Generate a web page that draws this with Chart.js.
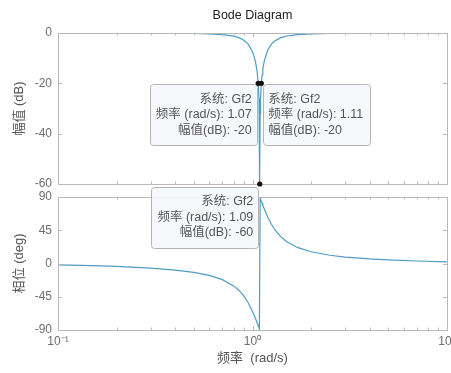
<!DOCTYPE html>
<html>
<head>
<meta charset="utf-8">
<script src="https://cdn.jsdelivr.net/npm/chart.js@4/dist/chart.umd.min.js"></script>
<style>
    html, body { margin: 0; padding: 0; background: #fff; overflow: hidden; }
    #wrap { position: relative; width: 470px; height: 373px; }
    #wrap canvas { position: absolute; left: 0; top: 0; }
</style>
</head>
<body>
<div id="wrap">
    <canvas id="magChart" width="470" height="373"></canvas>
    <canvas id="phaseChart" width="470" height="373"></canvas>
</div>
<script>
// frequency response of Gf2 (rad/s, dB, deg)
const freqMag = [0.1, 0.15, 0.2, 0.3, 0.4, 0.5, 0.6, 0.7, 0.8, 0.85, 0.9, 0.95, 1.0, 1.03, 1.05, 1.06, 1.07, 1.08, 1.085, 1.09,
    1.095, 1.1, 1.11, 1.12, 1.13, 1.15, 1.2, 1.25, 1.3, 1.4, 1.5, 1.7, 2, 2.5, 3, 4, 5, 7, 10];
const magDb = [-0.005, -0.012, -0.021, -0.052, -0.104, -0.193, -0.35, -0.648, -1.274, -1.855, -2.803, -4.425, -7.421, -10.6, -13.99, -16.46, -20, -25.99, -32.02, -60,
    -32.06, -26.07, -20, -16.69, -14.3, -11.04, -6.657, -4.446, -3.167, -1.836, -1.203, -0.644, -0.338, -0.166, -0.101, -0.05, -0.031, -0.015, -0.007];

const freqPhase = [0.1, 0.15, 0.2, 0.3, 0.4, 0.5, 0.6, 0.7, 0.8, 0.85, 0.9, 0.95, 1.0, 1.03, 1.05, 1.06, 1.07, 1.08, 1.085,
    1.095, 1.1, 1.11, 1.12, 1.13, 1.15, 1.2, 1.25, 1.3, 1.4, 1.5, 1.7, 2, 2.5, 3, 4, 5, 7, 10];
const phaseDeg = [-1.94, -2.95, -3.99, -6.24, -8.85, -12.03, -16.16, -21.86, -30.28, -36.14, -43.6, -53.07, -64.82, -72.84, -78.48, -81.35, -84.24, -87.12, -88.56,
    88.57, 87.15, 84.34, 81.58, 78.89, 73.71, 62.31, 53.18, 46.02, 35.96, 29.47, 21.78, 15.88, 11.17, 8.73, 6.17, 4.8, 3.35, 2.32];

const magTicks = [0, -20, -40, -60];
const phaseTicks = [90, 45, 0, -45, -90];
const decadeTicks = [0.1, 1, 10];
const decadeLabels = ['10⁻¹', '10⁰', '10¹'];

// data tips: [freq, value, lines, side]
const magTips = [
    [1.07, -20, ['系统: Gf2', '频率 (rad/s): 1.07', '幅值(dB): -20'], 'left'],
    [1.11, -20, ['系统: Gf2', '频率 (rad/s): 1.11', '幅值(dB): -20'], 'right'],
];
const notchTips = [
    [1.09, -60, ['系统: Gf2', '频率 (rad/s): 1.09', '幅值(dB): -60'], 'left'],
];

const lineColor = '#4d9cc4';
const axisColor = '#b8b8b8';
const textColor = '#6e6e6e';
const fontFamily = "'Liberation Sans', Arial, sans-serif";
const cjkFamily = "'Liberation Sans', 'Noto Sans CJK SC', sans-serif";

function toPoints(xs, ys) {
    return xs.map((x, i) => ({ x: x, y: ys[i] }));
}

// box around the plot and inward tick marks, minor ticks on the log axis
const frameTicks = {
    id: 'frameTicks',
    afterDatasetsDraw(chart) {
        const ctx = chart.ctx;
        const a = chart.chartArea;
        const xs = chart.scales.x;
        const ys = chart.scales.y;
        ctx.save();
        ctx.strokeStyle = axisColor;
        ctx.lineWidth = 1;
        ctx.strokeRect(Math.round(a.left) + 0.5, Math.round(a.top) + 0.5, Math.round(a.right - a.left), Math.round(a.bottom - a.top));
        ctx.beginPath();
        for (let d = 0.1; d < 10; d *= 10) {
            for (let k = 1; k <= 10; k++) {
                const px = Math.round(xs.getPixelForValue(d * k)) + 0.5;
                const len = (k === 1 || k === 10) ? 4 : 2.5;
                ctx.moveTo(px, a.top); ctx.lineTo(px, a.top + len);
                ctx.moveTo(px, a.bottom); ctx.lineTo(px, a.bottom - len);
            }
        }
        chart.options.scales.y.ticks.values.forEach(v => {
            const py = Math.round(ys.getPixelForValue(v)) + 0.5;
            ctx.moveTo(a.left, py); ctx.lineTo(a.left + 4, py);
            ctx.moveTo(a.right, py); ctx.lineTo(a.right - 4, py);
        });
        ctx.stroke();
        ctx.restore();
    }
};

// MATLAB style data tips: a marker and a text box beside it
function drawTips(ctx, xs, ys, tips, dy) {
    ctx.save();
    ctx.font = '12.5px ' + cjkFamily;
    tips.forEach(t => {
        const px = xs.getPixelForValue(t[0]);
        const py = ys.getPixelForValue(t[1]);
        const w = 107, h = 61;
        const bx = t[3] === 'left' ? px - w - 1.5 : px + 2;
        const by = py + dy;
        ctx.fillStyle = 'rgba(246, 248, 252, 0.93)';
        ctx.strokeStyle = '#b4b4b4';
        ctx.lineWidth = 1;
        ctx.beginPath();
        ctx.roundRect(Math.round(bx) + 0.5, Math.round(by) + 0.5, w, h, 3);
        ctx.fill();
        ctx.stroke();
        ctx.fillStyle = '#555';
        ctx.textBaseline = 'middle';
        ctx.textAlign = t[3] === 'left' ? 'right' : 'left';
        const tx = t[3] === 'left' ? bx + w - 5 : bx + 5;
        t[2].forEach((s, i) => ctx.fillText(s, tx, by + 15 + i * 15.5));
    });
    tips.forEach(t => {
        ctx.fillStyle = '#111';
        ctx.beginPath();
        ctx.arc(xs.getPixelForValue(t[0]), ys.getPixelForValue(t[1]), 2.6, 0, Math.PI * 2);
        ctx.fill();
    });
    ctx.restore();
}

function xAxis(showLabels) {
    return {
        type: 'logarithmic',
        min: 0.1,
        max: 10,
        display: showLabels,
        afterBuildTicks: s => { s.ticks = decadeTicks.map(v => ({ value: v })); },
        afterFit: s => { s.height = showLabels ? 43 : 0; },
        grid: { display: false, drawTicks: false },
        border: { display: false },
        ticks: {
            padding: 4,
            color: textColor,
            font: { family: fontFamily, size: 12 },
            maxRotation: 0,
            callback: (v) => decadeLabels[decadeTicks.indexOf(v)] || ''
        },
        title: {
            display: showLabels,
            text: '频率  (rad/s)',
            color: '#555',
            font: { family: cjkFamily, size: 13 },
            padding: { top: 0, bottom: 7 }
        }
    };
}

function yAxis(min, max, values, label) {
    return {
        min: min,
        max: max,
        afterBuildTicks: s => { s.ticks = values.map(v => ({ value: v })); },
        afterFit: s => { s.width = 58; },
        grid: { display: false, drawTicks: false },
        border: { display: false },
        ticks: {
            values: values,
            padding: 6,
            color: textColor,
            font: { family: fontFamily, size: 12 }
        },
        title: {
            display: true,
            text: label,
            color: '#555',
            font: { family: cjkFamily, size: 13 },
            padding: { top: 12, bottom: 0 }
        }
    };
}

const commonLine = {
    borderColor: lineColor,
    borderWidth: 1.2,
    pointRadius: 0,
    tension: 0,
    fill: false
};

const magChart = new Chart(document.getElementById('magChart'), {
    type: 'line',
    data: {
        datasets: [Object.assign({ label: 'Gf2', data: toPoints(freqMag, magDb) }, commonLine)]
    },
    plugins: [frameTicks, {
        id: 'magTips',
        afterDraw: c => drawTips(c.ctx, c.scales.x, c.scales.y, magTips, 1)
    }],
    options: {
        responsive: false,
        animation: false,
        layout: { padding: { left: 0, right: 23, top: 0, bottom: 189 } },
        scales: {
            x: xAxis(false),
            y: yAxis(-60, 0, magTicks, '幅值 (dB)')
        },
        plugins: {
            legend: { display: false },
            tooltip: { enabled: false },
            title: {
                display: true,
                fullSize: false,
                text: 'Bode Diagram',
                color: '#222',
                font: { family: fontFamily, size: 12.5, weight: 'normal' },
                padding: { top: 8, bottom: 10 }
            }
        }
    }
});

// the -60 dB tip overlaps both plots, so it is drawn on the upper canvas
// using the magnitude chart's scales
new Chart(document.getElementById('phaseChart'), {
    type: 'line',
    data: {
        datasets: [Object.assign({ label: 'Gf2', data: toPoints(freqPhase, phaseDeg) }, commonLine)]
    },
    plugins: [frameTicks, {
        id: 'notchTip',
        afterDraw: c => drawTips(c.ctx, magChart.scales.x, magChart.scales.y, notchTips, 3)
    }],
    options: {
        responsive: false,
        animation: false,
        layout: { padding: { left: 0, right: 23, top: 197, bottom: 0 } },
        scales: {
            x: xAxis(true),
            y: yAxis(-90, 90, phaseTicks, '相位 (deg)')
        },
        plugins: {
            legend: { display: false },
            tooltip: { enabled: false }
        }
    }
});
</script>
</body>
</html>
